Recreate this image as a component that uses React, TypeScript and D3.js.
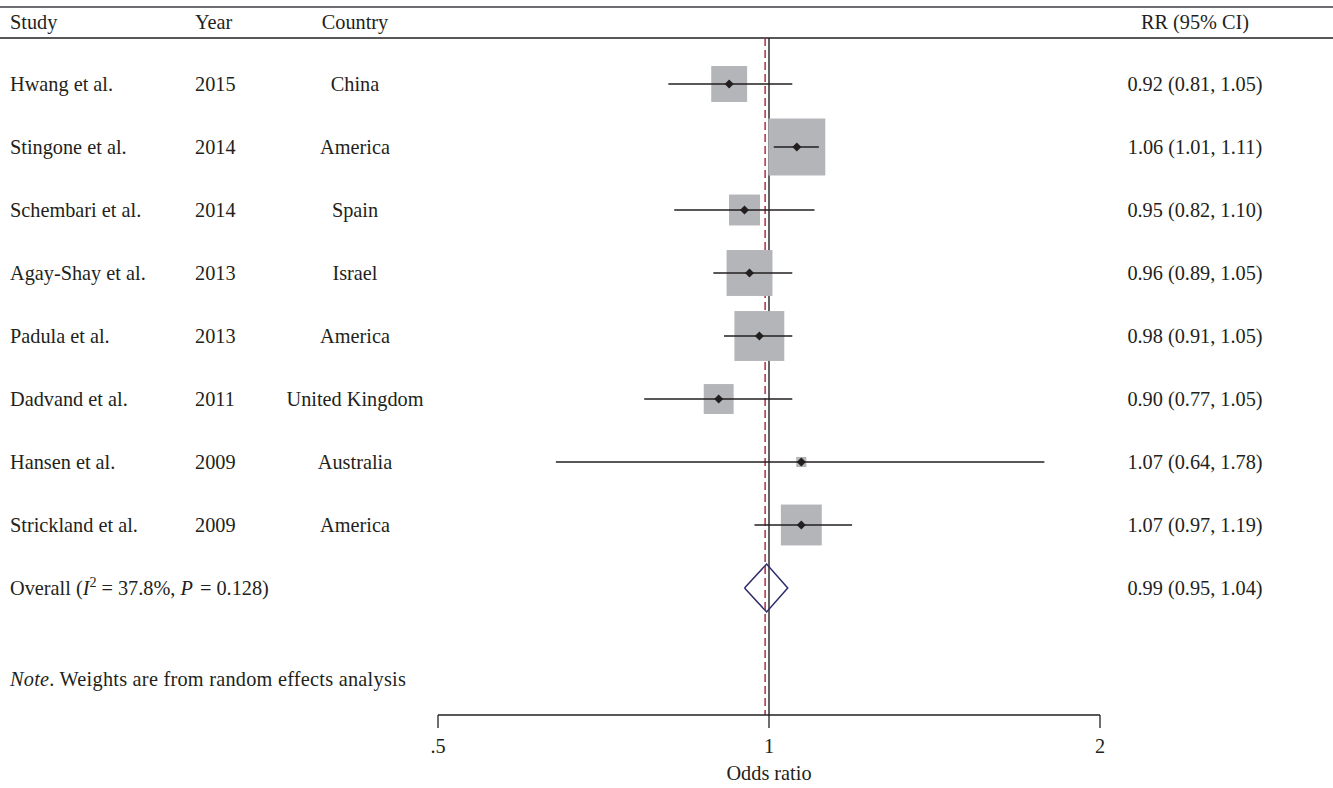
import React from "react";
import * as d3 from "d3";

const studies = ["Hwang et al.", "Stingone et al.", "Schembari et al.", "Agay-Shay et al.", "Padula et al.", "Dadvand et al.", "Hansen et al.", "Strickland et al."];
const years = ["2015", "2014", "2014", "2013", "2013", "2011", "2009", "2009"];
const countries = ["China", "America", "Spain", "Israel", "America", "United Kingdom", "Australia", "America"];
const rr = [0.92, 1.06, 0.95, 0.96, 0.98, 0.9, 1.07, 1.07];
const lower = [0.81, 1.01, 0.82, 0.89, 0.91, 0.77, 0.64, 0.97];
const upper = [1.05, 1.11, 1.1, 1.05, 1.05, 1.05, 1.78, 1.19];
const weights = [10.1, 25.4, 7.5, 16.5, 19.5, 7.0, 0.8, 13.1];
const overallEst = [0.995];
const overallCI = [0.95, 1.04];
const overallLabel = ["0.99 (0.95, 1.04)"];
const xTicks = [0.5, 1, 2];
const xTickLabels = [".5", "1", "2"];

const W = 1333;
const H = 788;
const FONT = "'Liberation Serif', 'Times New Roman', serif";
const FS = 20.3;

export default function App() {
  const x = d3.scaleLog().base(2).domain([0.5, 2]).range([438, 1100]);
  const y = d3.scaleLinear().domain([0, 8]).range([84, 588]);
  const side = d3.scaleSqrt().domain([0, 100]).range([0, 113]);
  const axisY = 715;
  const headerY = 29;
  const textOff = 7;
  const colStudy = 10;
  const colYear = 195;
  const colCountry = 355;
  const colRR = 1195;
  const oy = y(studies.length);
  const diamondPath = d3.line()([
    [x(overallCI[0]), oy],
    [x(overallEst[0]), oy - 24],
    [x(overallCI[1]), oy],
    [x(overallEst[0]), oy + 24],
    [x(overallCI[0]), oy],
  ] as [number, number][]) as string;

  return (
    <svg width={W} height={H} style={{ position: "absolute", left: 0, top: 0, background: "#fff" }} fontFamily={FONT} fontSize={FS} fill="#231f20">
      <line x1={0} x2={W} y1={7} y2={7} stroke="#6d6e71" strokeWidth={2} />
      <line x1={0} x2={W} y1={38} y2={38} stroke="#231f20" strokeWidth={1.5} />
      <text x={colStudy} y={headerY}>Study</text>
      <text x={colYear} y={headerY}>Year</text>
      <text x={colCountry} y={headerY} textAnchor="middle">Country</text>
      <text x={colRR} y={headerY} textAnchor="middle">RR (95% CI)</text>

      <line x1={x(1)} x2={x(1)} y1={38} y2={axisY} stroke="#231f20" strokeWidth={1.4} />
      <line x1={x(overallEst[0]) - 1.5} x2={x(overallEst[0]) - 1.5} y1={38} y2={axisY} stroke="#a8202f" strokeWidth={1.4} strokeDasharray="8,4" />

      {studies.map((s, i) => {
        const cy = y(i);
        const sz = side(weights[i]);
        const cx = x(rr[i]);
        return (
          <g key={s}>
            <text x={colStudy} y={cy + textOff}>{s}</text>
            <text x={colYear} y={cy + textOff}>{years[i]}</text>
            <text x={colCountry} y={cy + textOff} textAnchor="middle">{countries[i]}</text>
            <text x={colRR} y={cy + textOff} textAnchor="middle">
              {`${rr[i].toFixed(2)} (${lower[i].toFixed(2)}, ${upper[i].toFixed(2)})`}
            </text>
            <rect x={cx - sz / 2} y={cy - sz / 2} width={sz} height={sz} fill="#b4b5b9" />
            <line x1={x(lower[i])} x2={x(upper[i])} y1={cy} y2={cy} stroke="#231f20" strokeWidth={1.3} />
            <path d={`M${cx - 4.5},${cy} L${cx},${cy - 4.5} L${cx + 4.5},${cy} L${cx},${cy + 4.5} Z`} fill="#231f20" />
          </g>
        );
      })}

      <text x={colStudy} y={oy + textOff}>
        Overall (<tspan fontStyle="italic">I</tspan>
        <tspan fontSize={FS * 0.7} dy={-8}>2</tspan>
        <tspan dy={8} dx={5}>=</tspan>
        <tspan dx={5}>37.8%, </tspan>
        <tspan fontStyle="italic">P</tspan>
        <tspan dx={2}> = 0.128)</tspan>
      </text>
      <text x={colRR} y={oy + textOff} textAnchor="middle">{overallLabel[0]}</text>
      <path d={diamondPath} fill="none" stroke="#2b2a6b" strokeWidth={1.5} />

      <text x={colStudy} y={679 + textOff} letterSpacing={0.25}>
        <tspan fontStyle="italic">Note</tspan>. Weights are from random effects analysis
      </text>

      <line x1={x(xTicks[0])} x2={x(xTicks[xTicks.length - 1])} y1={axisY} y2={axisY} stroke="#231f20" strokeWidth={1.3} />
      {xTicks.map((t, i) => (
        <g key={t}>
          <line x1={x(t)} x2={x(t)} y1={axisY} y2={axisY + 13} stroke="#231f20" strokeWidth={1.3} />
          <text x={x(t)} y={axisY + 38} textAnchor="middle">{xTickLabels[i]}</text>
        </g>
      ))}
      <text x={x(1)} y={780} textAnchor="middle">Odds ratio</text>
    </svg>
  );
}
